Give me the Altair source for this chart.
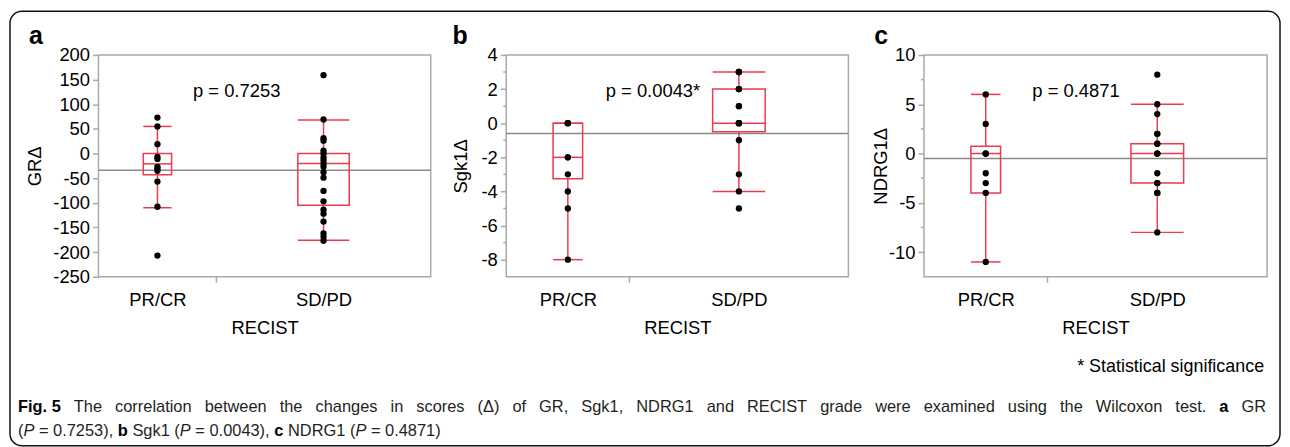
import altair as alt
import pandas as pd

# ---------------- data ----------------
groups = ["PR/CR", "SD/PD"]

gr_prcr = [73, 55, 19, -7, -11, -27, -30, -35, -57, -108, -207]
gr_sdpd = [159, 69, 31, 26, 6, 0, -8, -14, -21, -27, -38, -49, -76, -97,
           -114, -122, -138, -162, -169, -177]
sgk_prcr = [0, 0, 0, -2, -2, -3, -4, -5, -8]
sgk_sdpd = [3, 3, 3, 2, 2, 2, 1, 1, 0, 0, 0, 0, -1, -3, -4, -5]
ndrg_prcr = [6, 3, 0, 0, 0, -2, -3, -4, -11]
ndrg_sdpd = [8, 5, 4, 2, 2, 1, 1, 0, 0, 0, -2, -3, -3, -4, -4, -8]

# box statistics: lower whisker, Q1, median, Q3, upper whisker
gr_box = [[-110, -43, -21, 0, 55], [-176, -105, -20, 0, 68]]
sgk_box = [[-8, -3.25, -2, 0, 0], [-4, -0.5, 0, 2, 3]]
ndrg_box = [[-11, -4, 0, 0.75, 6], [-8, -3, 0, 1, 5]]

grand_means = [-34, -0.6, -0.5]
p_texts = ["p = 0.7253", "p = 0.0043*", "p = 0.4871"]
y_titles = ["GR\u0394", "Sgk1\u0394", "NDRG1\u0394"]
letters = ["a", "b", "c"]
x_title = "RECIST"

gr_ticks = [-250, -200, -150, -100, -50, 0, 50, 100, 150, 200]
sgk_ticks = [-8, -6, -4, -2, 0, 2, 4]
sgk_minor = [-7, -5, -3, -1, 1, 3]
ndrg_ticks = [-10, -5, 0, 5, 10]
ndrg_minor = [-7.5, -2.5, 2.5, 7.5]

# ---------------- styling ----------------
FONT = "Liberation Sans"
RED = "#ec3a50"
GRAY = "#a9a9a9"
H = 223
BOX_FRAC = 0.12
FS = 18.5

one = pd.DataFrame({"k": [0]})


def text_layer(txt, x, y, size, weight="normal", style="normal", align="left",
               baseline="middle", color="black"):
    return alt.Chart(one).mark_text(
        text=txt, font=FONT, fontSize=size, fontWeight=weight, fontStyle=style,
        align=align, baseline=baseline, color=color
    ).encode(x=alt.value(x), y=alt.value(y))


def panel(prcr, sdpd, box, mean, dom, ticks, minor, ytitle, title_x, letter,
          letter_x, ptxt, ptxt_x, w, extra=()):
    n1, n2 = len(prcr), len(sdpd)
    N = n1 + n2
    centers = [n1 / 2, n1 + n2 / 2]
    halfw = [BOX_FRAC * n1, BOX_FRAC * n2]

    pts = pd.DataFrame({
        "group": [groups[0]] * n1 + [groups[1]] * n2,
        "xc": [centers[0]] * n1 + [centers[1]] * n2,
        "value": prcr + sdpd,
    })
    bx = pd.DataFrame({
        "group": groups,
        "xc": centers,
        "xlo": [c - h for c, h in zip(centers, halfw)],
        "xhi": [c + h for c, h in zip(centers, halfw)],
        "lw": [b[0] for b in box],
        "q1": [b[1] for b in box],
        "med": [b[2] for b in box],
        "q3": [b[3] for b in box],
        "uw": [b[4] for b in box],
    })

    xscale = alt.Scale(domain=[0, N], nice=False, zero=False)
    yscale = alt.Scale(domain=dom, nice=False, zero=False)
    xaxis = alt.Axis(values=centers, ticks=False, domain=False, grid=False,
                     labelExpr=f"datum.value < {n1} ? '{groups[0]}' : '{groups[1]}'",
                     labelAngle=0, labelFlush=False, labelPadding=14,
                     title=x_title, titlePadding=10)
    yaxis = alt.Axis(values=ticks, domain=False, grid=False, tickSize=6,
                     labelPadding=3, labelExpr="'' + datum.value",
                     title=ytitle, titleX=title_x, titleY=H / 2, titleAngle=270,
                     titleAlign="center", titleBaseline="middle")

    def X(f):
        return alt.X(f, type="quantitative", scale=xscale, axis=xaxis)

    def Y(f):
        return alt.Y(f, type="quantitative", scale=yscale, axis=yaxis)

    meanline = alt.Chart(pd.DataFrame({"m": [mean]})).mark_rule(
        color="#8a8a8a", strokeWidth=1.5).encode(
        y=Y("m"), x=alt.value(0), x2=alt.value(w))

    rect = alt.Chart(bx).mark_rect(fill="transparent", stroke=RED,
                                   strokeWidth=1.5).encode(
        x=X("xlo"), x2="xhi", y=Y("q1"), y2="q3")
    med = alt.Chart(bx).mark_rule(color=RED, strokeWidth=1.5).encode(
        x=X("xlo"), x2="xhi", y=Y("med"))
    wh_up = alt.Chart(bx).mark_rule(color=RED, strokeWidth=1.5).encode(
        x=X("xc"), y=Y("q3"), y2="uw")
    wh_lo = alt.Chart(bx).mark_rule(color=RED, strokeWidth=1.5).encode(
        x=X("xc"), y=Y("lw"), y2="q1")
    cap_up = alt.Chart(bx).mark_rule(color=RED, strokeWidth=1.5).encode(
        x=X("xlo"), x2="xhi", y=Y("uw"))
    cap_lo = alt.Chart(bx).mark_rule(color=RED, strokeWidth=1.5).encode(
        x=X("xlo"), x2="xhi", y=Y("lw"))
    dots = alt.Chart(pts).mark_circle(size=40, color="black", opacity=1).encode(
        x=X("xc"), y=Y("value"))
    sep = alt.Chart(pd.DataFrame({"b": [n1]})).mark_rule(
        color=GRAY, strokeWidth=1.5).encode(
        x=X("b"), y=alt.value(H), y2=alt.value(H + 6))

    layers = [meanline, rect, wh_up, wh_lo, med, cap_up, cap_lo, dots, sep]
    if minor:
        layers.append(alt.Chart(pd.DataFrame({"t": minor})).mark_rule(
            color=GRAY, strokeWidth=1.5).encode(
            y=Y("t"), x=alt.value(-3), x2=alt.value(0)))
    layers.append(text_layer(letter, letter_x, -11, 25, weight="bold",
                             baseline="alphabetic"))
    layers.append(text_layer(ptxt, ptxt_x, 36, FS))
    layers.extend(extra)
    return alt.layer(*layers).properties(width=w, height=H)


# ---------------- caption (laid out in panel-a coordinates) ----------------
AR = {" ": 278, "(": 333, ")": 333, ",": 278, ".": 278, "=": 584, "*": 389,
      "\u0394": 668}
for d in "0123456789":
    AR[d] = 556
AR.update(dict(zip("ABCDEFGHIJKLMNOPQRSTUVWXYZ",
                   [667, 667, 722, 722, 667, 611, 778, 722, 278, 500, 667, 556, 833,
                    722, 778, 667, 778, 722, 667, 611, 722, 667, 944, 667, 667, 611])))
AR.update(dict(zip("abcdefghijklmnopqrstuvwxyz",
                   [556, 556, 500, 556, 556, 278, 556, 556, 222, 222, 500, 222, 833,
                    556, 556, 556, 556, 333, 500, 278, 556, 500, 722, 500, 500, 500])))
ARB = dict(AR)
ARB.update({"a": 556, "b": 611, "c": 556, "F": 611, "i": 278, "g": 611})


def tw(s, size, bold=False):
    tab = ARB if bold else AR
    return sum(tab.get(ch, 556) for ch in s) * size / 1000


CAP = 16.5
CAPCOL = "#231f20"
cap_x0, cap_x1 = -81, 1174
line1 = [("Fig. 5", "b")] + [(wd, "n") for wd in
         "The correlation between the changes in scores (\u0394) of GR, Sgk1, NDRG1 and RECIST grade were examined using the Wilcoxon test.".split()] \
        + [("a", "b"), ("GR", "n")]
line2 = [("(", "n"), ("P", "i"), (" = 0.7253), ", "n"), ("b", "b"),
         (" Sgk1 (", "n"), ("P", "i"), (" = 0.0043), ", "n"), ("c", "b"),
         (" NDRG1 (", "n"), ("P", "i"), (" = 0.4871)", "n")]

caption_layers = []
widths = [tw(t, CAP, s == "b") for t, s in line1]
gap = (cap_x1 - cap_x0 - sum(widths)) / (len(line1) - 1)
x = cap_x0
for (t, s), wdt in zip(line1, widths):
    caption_layers.append(text_layer(t, x, 354, CAP,
                                     weight="bold" if s == "b" else "normal",
                                     color="black" if s == "b" else CAPCOL))
    x += wdt + gap
x = cap_x0
for t, s in line2:
    lead = len(t) - len(t.lstrip(" "))
    caption_layers.append(text_layer(t.strip(), x + tw(" " * lead, CAP), 378, CAP,
                                     weight="bold" if s == "b" else "normal",
                                     style="italic" if s == "i" else "normal",
                                     color="black" if s == "b" else CAPCOL))
    x += tw(t, CAP, s == "b")

frame = alt.Chart(one).mark_rect(fill="transparent", stroke="#111111",
                                 strokeWidth=1.5, cornerRadius=12).encode(
    x=alt.value(-89), x2=alt.value(1188), y=alt.value(-44), y2=alt.value(393))

pa = panel(gr_prcr, gr_sdpd, gr_box, grand_means[0], [-250, 200], gr_ticks, [],
           y_titles[0], -64, letters[0], -70, p_texts[0], 95, 334,
           extra=[frame] + caption_layers)
pb = panel(sgk_prcr, sgk_sdpd, sgk_box, grand_means[1], [-9, 4], sgk_ticks,
           sgk_minor, y_titles[1], -46, letters[1], -54, p_texts[1], 100, 344)
pc = panel(ndrg_prcr, ndrg_sdpd, ndrg_box, grand_means[2], [-12.5, 10], ndrg_ticks,
           ndrg_minor, y_titles[2], -44, letters[2], -50, p_texts[2], 109, 345,
           extra=[text_layer("*  Statistical significance", 342, 314, 18,
                             align="right")])

chart = alt.hconcat(pa, pb, pc, spacing=76, bounds="flush").properties(
    padding=0
).configure_view(
    stroke=GRAY, strokeWidth=1.5
).configure_axis(
    labelFont=FONT, labelFontSize=FS, labelColor="black",
    titleFont=FONT, titleFontSize=FS, titleFontWeight="normal", titleColor="black",
    tickColor=GRAY, tickWidth=1.5
)

chart.save("out.html", embed_options={"renderer": "svg", "actions": False})
